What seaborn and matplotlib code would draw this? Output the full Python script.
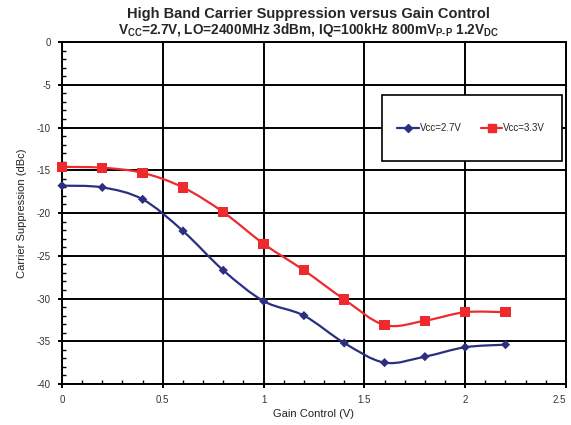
import numpy as np
import pandas as pd
import matplotlib
matplotlib.use('Agg')
import matplotlib.pyplot as plt
from matplotlib.path import Path
from matplotlib.patches import PathPatch, Rectangle, Shadow
from matplotlib.lines import Line2D
from matplotlib.ticker import MultipleLocator
import seaborn as sns

# data
gain = [0.0, 0.2, 0.4, 0.6, 0.8, 1.0, 1.2, 1.4, 1.6, 1.8, 2.0, 2.2]
vcc27 = [-16.8, -17.0, -18.4, -22.1, -26.7, -30.3, -32.0, -35.2, -37.5, -36.8, -35.7, -35.4]
vcc33 = [-14.6, -14.7, -15.3, -17.0, -19.9, -23.6, -26.7, -30.1, -33.1, -32.6, -31.6, -31.6]
series = ['Vcc=2.7V', 'Vcc=3.3V']
xticks = ['0', '0.5', '1', '1.5', '2', '2.5']

df = pd.DataFrame({
    'gain': gain * 2,
    'supp': vcc27 + vcc33,
    'series': [series[0]] * len(gain) + [series[1]] * len(gain),
})

sns.set_style('white')
plt.rcParams['font.family'] = ['Liberation Sans', 'DejaVu Sans']
plt.rcParams['mathtext.fontset'] = 'custom'
plt.rcParams['mathtext.rm'] = 'Liberation Sans:bold'
plt.rcParams['mathtext.default'] = 'rm'

colors = {series[0]: '#2b2f7f', series[1]: '#ee2a2e'}
markers = {series[0]: 'D', series[1]: 's'}
msize = {series[0]: 22, series[1]: 55}

fig = plt.figure(figsize=(5.71, 4.25), dpi=100)
ax = fig.add_axes([0.1086, 0.0965, 0.8826, 0.8045])


def smooth_path(x, y):
    # excel style smoothed line: cubic bezier through the points
    p = np.column_stack([x, y])
    n = len(p)
    verts = [p[0]]
    codes = [Path.MOVETO]
    for i in range(n - 1):
        p0 = p[i - 1] if i > 0 else p[i]
        p3 = p[i + 2] if i + 2 < n else p[i + 1]
        c1 = p[i] + (p[i + 1] - p0) / 6
        c2 = p[i + 1] - (p3 - p[i]) / 6
        verts += [c1, c2, p[i + 1]]
        codes += [Path.CURVE4] * 3
    return Path(verts, codes)


for s in series:
    d = df[df['series'] == s]
    ax.add_patch(PathPatch(smooth_path(d['gain'].values, d['supp'].values),
                           facecolor='none', edgecolor=colors[s], lw=1.6, zorder=3))

sns.scatterplot(data=df, x='gain', y='supp', hue='series', style='series',
                palette=colors, markers=markers, size='series', sizes=msize,
                linewidth=0, legend=False, ax=ax, zorder=4, clip_on=False)

ax.set_xlim(0, 2.5)
ax.set_ylim(-40, 0)
ax.set_xticks(np.arange(0, 2.51, 0.5))
ax.set_xticklabels(xticks)
ax.xaxis.set_minor_locator(MultipleLocator(0.1))
ax.set_yticks(np.arange(-40, 0.1, 5))
ax.set_yticklabels([str(v) for v in range(-40, 1, 5)])
ax.yaxis.set_minor_locator(MultipleLocator(1))
ax.grid(True, which='major', color='black', lw=1.4)
ax.tick_params(which='major', direction='inout', length=6, width=1.4,
               labelsize=7, colors='black', labelcolor='#333333', pad=5)
ax.tick_params(which='minor', direction='in', length=3, width=1.0, color='black')
ax.tick_params(axis='x', which='both', top=False, bottom=True)
ax.tick_params(axis='y', which='both', left=True, right=False)
for sp in ax.spines.values():
    sp.set_color('black')
    sp.set_linewidth(1.4)
# last tick label sits on the figure edge, pull it in a little
ax.get_xticklabels()[-1].set_ha('right')

ax.set_xlabel('Gain Control (V)', fontsize=8, labelpad=3, color='#222222')
ax.set_ylabel('Carrier Suppression (dBc)', fontsize=8, labelpad=7, color='#222222')

fig.text(0.541, 0.957, 'High Band Carrier Suppression versus Gain Control',
         ha='center', fontsize=10.5, fontweight='bold')
fig.text(0.541, 0.920,
         r'V$_{CC}$=2.7V, LO=2400MHz 3dBm, IQ=100kHz 800mV$_{\text{P-P}}$ 1.2V$_{DC}$',
         ha='center', fontsize=9.8, fontweight='bold')

# legend box drawn by hand, it is much wider/taller than its entries
box = Rectangle((0.635, 0.652), 0.357, 0.193, transform=ax.transAxes,
                facecolor='white', edgecolor='black', lw=1.2, zorder=4.5)
shadow = Shadow(box, 2, -2, facecolor='#aaaaaa', edgecolor='none')
shadow.set_zorder(4.4)
ax.add_patch(shadow)
ax.add_patch(box)

handles = [Line2D([], [], color=colors[s], lw=1.6, marker=markers[s],
                  markersize=4 if s == series[0] else 6) for s in series]
leg = ax.legend(handles, series, ncol=2, loc='center',
                bbox_to_anchor=(0.812, 0.748), fontsize=7,
                frameon=False, handlelength=2.2, handletextpad=0.1,
                columnspacing=2.0, borderaxespad=0)
leg.set_zorder(5)

fig.savefig('out.png', dpi=100)
